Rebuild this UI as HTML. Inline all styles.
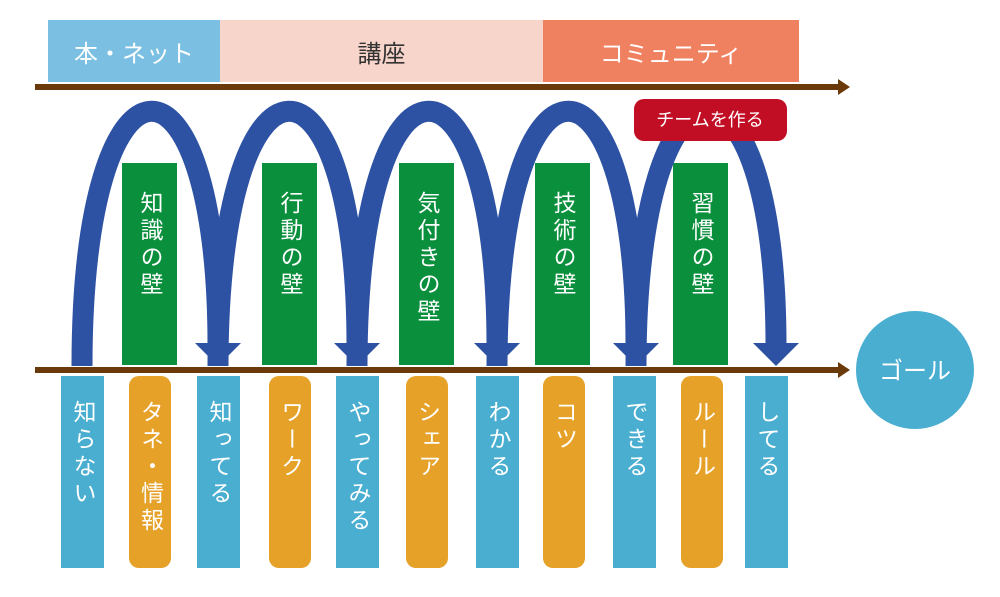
<!DOCTYPE html>
<html><head><meta charset="utf-8"><style>
body{margin:0;width:1000px;height:597px;background:#fff;position:relative;overflow:hidden;font-family:"Liberation Sans","Noto Sans CJK JP",sans-serif}
.a{position:absolute}
.band{position:absolute;top:20px;height:62px;display:flex;align-items:center;justify-content:center;font-size:24px}
.g{position:absolute;top:163px;height:202px;width:55px;background:#0a8f3c}
.v{writing-mode:vertical-rl;color:#fff;font-size:23px;letter-spacing:4px;position:absolute;left:50%;transform:translateX(-50%);top:28px;line-height:1}
.b{position:absolute;top:376px;height:192px;width:43px;background:#4aaed1}
.o{position:absolute;top:376px;height:192px;width:42px;background:#e5a128;border-radius:10px}
.b .v,.o .v{top:24px}
</style></head><body>
<div class="band" style="left:48px;width:172px;background:#7bbfe3;color:#fff">本・ネット</div>
<div class="band" style="left:220px;width:323px;background:#f8d5cb;color:#333">講座</div>
<div class="band" style="left:543px;width:256px;background:#ef8060;color:#fff">コミュニティ</div>

<div class="g" style="left:122px"><div class="v">知識の壁</div></div>
<div class="g" style="left:262px"><div class="v">行動の壁</div></div>
<div class="g" style="left:399px"><div class="v">気付きの壁</div></div>
<div class="g" style="left:535px"><div class="v">技術の壁</div></div>
<div class="g" style="left:673px"><div class="v">習慣の壁</div></div>

<svg class="a" style="left:0;top:0" width="1000" height="597">
<g fill="none" stroke="#2e52a3" stroke-width="21">
<path d="M82,366 C82,30 218,30 218,345"/>
<path d="M218,366 C218,30 357,30 357,345"/>
<path d="M357,366 C357,30 497,30 497,345"/>
<path d="M497,366 C497,30 636,30 636,345"/>
<path d="M636,366 C636,30 776,30 776,345"/>
</g>
<g fill="#2e52a3">
<polygon points="195,343 241,343 218,366"/>
<polygon points="334,343 380,343 357,366"/>
<polygon points="474,343 520,343 497,366"/>
<polygon points="613,343 659,343 636,366"/>
<polygon points="753,343 799,343 776,366"/>
</g>
<rect x="35" y="84" width="806" height="6" fill="#6a3a0a"/>
<polygon points="838,79 850,87 838,95" fill="#6a3a0a"/>
<rect x="35" y="367" width="806" height="6" fill="#6a3a0a"/>
<polygon points="838,362 850,370 838,378" fill="#6a3a0a"/>
<circle cx="915" cy="370" r="59" fill="#4aaed1"/>
<text x="915" y="379" text-anchor="middle" fill="#fff" font-size="24" font-family="Liberation Sans, Noto Sans CJK JP, sans-serif">ゴール</text>
<rect x="634" y="99" width="153" height="42" rx="10" fill="#c20e24"/>
<text x="710" y="126" text-anchor="middle" fill="#fff" font-size="18" font-family="Liberation Sans, Noto Sans CJK JP, sans-serif">チームを作る</text>
</svg>

<div class="b" style="left:61px"><div class="v">知らない</div></div>
<div class="o" style="left:129px"><div class="v">タネ・情報</div></div>
<div class="b" style="left:197px"><div class="v">知ってる</div></div>
<div class="o" style="left:269px"><div class="v">ワーク</div></div>
<div class="b" style="left:336px"><div class="v">やってみる</div></div>
<div class="o" style="left:406px"><div class="v">シェア</div></div>
<div class="b" style="left:476px"><div class="v">わかる</div></div>
<div class="o" style="left:543px"><div class="v">コツ</div></div>
<div class="b" style="left:613px"><div class="v">できる</div></div>
<div class="o" style="left:681px"><div class="v">ルール</div></div>
<div class="b" style="left:745px"><div class="v">してる</div></div>
</body></html>
